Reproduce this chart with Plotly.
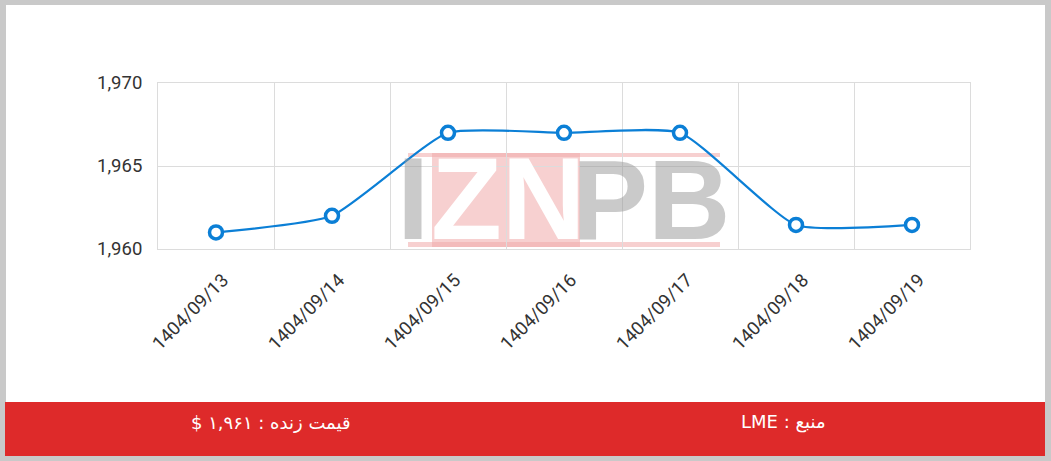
import plotly.graph_objects as go

dates = ["1404/09/13", "1404/09/14", "1404/09/15", "1404/09/16",
         "1404/09/17", "1404/09/18", "1404/09/19"]
prices = [1961, 1962, 1967, 1967, 1967, 1961.45, 1961.45]
y_ticks = [1960, 1965, 1970]
footer_price = "قیمت زنده : ۱,۹۶۱ $"
footer_source = "منبع : LME"

W, H = 1051, 461
L, R, T, B = 158, 970, 83, 249


def px(x):
    return (x - L) / (R - L)


def py(y):
    return (B - y) / (B - T)


def rtl(s):
    return "\u202b" + s + "\u202c"


BLUE = "#0b7fd6"

fig = go.Figure()
fig.add_trace(go.Scatter(
    x=dates, y=prices, mode="lines+markers",
    line=dict(color=BLUE, width=2.2, shape="spline", smoothing=0.5),
    marker=dict(size=13, color="white", line=dict(color=BLUE, width=3.5)),
    cliponaxis=False, hoverinfo="x+y",
))

PINK = "rgba(240,170,170,0.55)"
shapes = [
    dict(type="rect", xref="paper", yref="paper", layer="below",
         x0=px(6), x1=px(1045), y0=py(5), y1=py(456),
         fillcolor="white", line=dict(width=0)),
    dict(type="rect", xref="paper", yref="paper", layer="below",
         x0=px(5), x1=px(1045), y0=py(402), y1=py(456),
         fillcolor="#de2a2a", line=dict(width=0)),
    dict(type="rect", xref="paper", yref="paper", layer="below",
         x0=px(432), x1=px(580), y0=py(153), y1=py(247),
         fillcolor=PINK, line=dict(width=0)),
    dict(type="rect", xref="paper", yref="paper", layer="below",
         x0=px(408), x1=px(720), y0=py(153), y1=py(157),
         fillcolor=PINK, line=dict(width=0)),
    dict(type="rect", xref="paper", yref="paper", layer="below",
         x0=px(408), x1=px(720), y0=py(242), y1=py(247),
         fillcolor=PINK, line=dict(width=0)),
]

GRAY = "rgba(150,150,150,0.5)"
annotations = []
letters = [("I", 413, GRAY, 116), ("ZN", 508, "white", 116), ("PB", 651, GRAY, 114)]
for ch, cx, col, sz in letters:
    annotations.append(dict(
        text="<b>%s</b>" % ch, xref="paper", yref="paper",
        x=px(cx), y=py(199), xanchor="center", yanchor="middle",
        showarrow=False, borderpad=0,
        font=dict(family="Liberation Sans Narrow, Liberation Sans, Arial", size=sz, color=col),
    ))

for txt, cx in ((footer_price, 271), (footer_source, 783)):
    annotations.append(dict(text=rtl(txt), xref="paper", yref="paper",
                            x=px(cx), y=py(422), xanchor="center", yanchor="middle",
                            showarrow=False,
                            font=dict(family="DejaVu Sans", size=18, color="white")))

fig.update_layout(
    width=W, height=H,
    margin=dict(l=L, r=W - R, t=T, b=H - B, pad=0),
    paper_bgcolor="#c9c9c9",
    plot_bgcolor="white",
    showlegend=False,
    shapes=shapes,
    annotations=annotations,
    font=dict(family="Roboto, Arial", color="#333333"),
)
fig.update_xaxes(
    type="category", tickangle=-45, tickson="boundaries",
    showgrid=True, gridcolor="#dcdcdc", gridwidth=1,
    showline=True, linecolor="#dcdcdc", mirror=True,
    ticks="", tickfont=dict(size=18.5, color="#333333"),
    ticklabelstandoff=12, ticklabelshift=7,
    range=[-0.5, len(dates) - 0.5],
)
fig.update_yaxes(
    range=[1960, 1970], tickvals=y_ticks, tickformat=",",
    showgrid=True, gridcolor="#dcdcdc", gridwidth=1,
    showline=True, linecolor="#dcdcdc", mirror=True,
    zeroline=False, ticks="", ticklabelstandoff=11,
    tickfont=dict(size=18.5, color="#333333"),
)

fig.write_html("out.html", config={"displayModeBar": False},
               post_script="document.body.style.margin='0';")
